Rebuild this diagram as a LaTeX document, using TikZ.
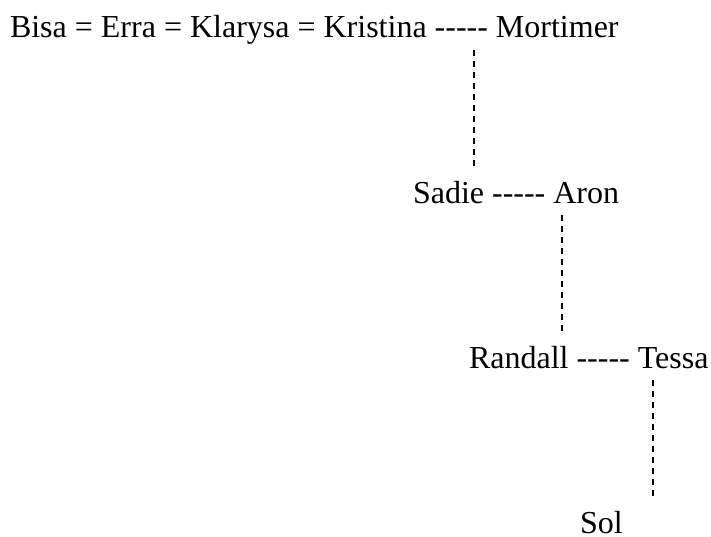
\documentclass[tikz,border=0pt]{standalone}
\usepackage{fontspec}
\setmainfont{Liberation Serif}
\usetikzlibrary{positioning,calc}
\newcommand\tiemark{\mbox{-}\mbox{-}\mbox{-}\mbox{-}\mbox{-}}
\tikzset{person/.style={inner sep=0pt,outer sep=0pt,font=\fontsize{32}{38}\selectfont},
         famline/.style={line width=2pt,dash pattern=on 6pt off 5pt}
}

\begin{document}
\begin{tikzpicture}[x=1pt,y=-1pt,node distance=8pt]
  \useasboundingbox(0,0)rectangle(711,536);
  % first row
  \node[person,anchor=base west](bisa)at(10,37){Bisa};
  \node[person,base right=of bisa.base east](eqA){=};
  \node[person,base right=of eqA.base east](erra){Erra};
  \node[person,base right=of erra.base east](eqB){=};
  \node[person,base right=of eqB.base east](klarysa){Klarysa};
  \node[person,base right=of klarysa.base east](eqC){=};
  \node[person,base right=of eqC.base east](kristina){Kristina};
  \node[person,base right=of kristina.base east](tieA){\tiemark};
  \node[person,base right=of tieA.base east](mortimer){Mortimer};
  % second row
  \node[person,anchor=base west](sadie)at(413,203){Sadie};
  \node[person,base right=of sadie.base east](tieB){\tiemark};
  \node[person,base right=of tieB.base east](aron){Aron};
  % third row
  \node[person,anchor=base west](randall)at(469,368){Randall};
  \node[person,base right=of randall.base east](tieC){\tiemark};
  \node[person,base right=of tieC.base east](tessa){Tessa};
  % last one
  \node[person,anchor=base west](sol)at(580,533){Sol};
  % descent lines
  \draw[famline]($(mortimer.base west)+(-22,13)$)--($(mortimer.base west|-sadie.base)+(-22,-36)$);
  \draw[famline]($(aron.base west)+(9,12)$)--($(aron.base west|-randall.base)+(9,-35)$);
  \draw[famline]($(tessa.base west)+(15,12)$)--($(tessa.base west|-sol.base)+(15,-35)$);
\end{tikzpicture}
\end{document}
